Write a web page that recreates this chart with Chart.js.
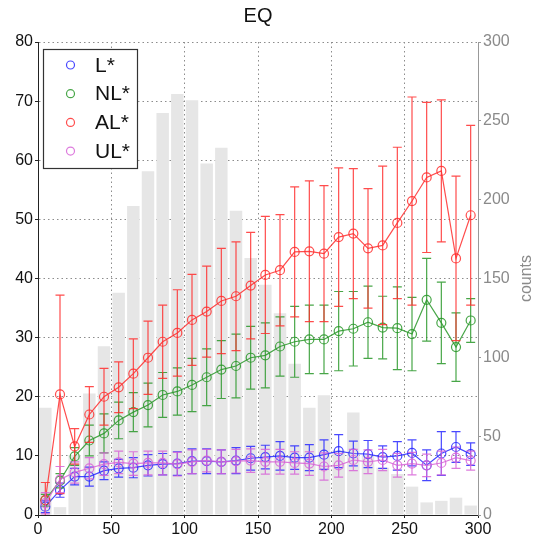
<!DOCTYPE html>
<html>
<head>
<meta charset="utf-8">
<script src="https://cdn.jsdelivr.net/npm/chart.js@4.4.0/dist/chart.umd.min.js"></script>
<style>
  html, body { margin:0; padding:0; background:#fff; }
  #wrap { width:539px; height:541px; }
</style>
</head>
<body>
<div id="wrap"><canvas id="chart" width="539" height="541"></canvas></div>
<script>
// bin centres (x) and histogram counts (right axis)
const binCenters = [5, 15, 25, 35, 45, 55, 65, 75, 85, 95, 105, 115, 125, 135, 145, 155, 165, 175, 185, 195, 205, 215, 225, 235, 245, 255, 265, 275, 285, 295];
const counts = [68, 5, 38, 77, 107, 141, 196, 218, 255, 267, 263, 223, 233, 193, 163, 146, 128, 96, 68, 76, 41, 65, 38, 30, 26, 18, 8, 9, 11, 6];

// series means and error half-widths
const seriesL = [1.4, 4.2, 6.5, 6.5, 7.5, 7.9, 8.0, 8.4, 8.6, 8.7, 9.1, 9.1, 9.0, 9.2, 9.6, 9.8, 10.0, 9.7, 9.7, 10.2, 10.8, 10.4, 10.3, 9.8, 10.0, 10.5, 8.4, 10.4, 11.5, 10.3];
const errL = [1.0, 1.2, 1.4, 1.6, 1.5, 1.5, 1.7, 1.8, 1.8, 2.0, 2.1, 2.1, 2.0, 2.2, 2.0, 2.0, 2.4, 2.0, 2.2, 2.5, 2.8, 2.1, 2.3, 1.9, 2.4, 2.2, 2.6, 3.7, 2.6, 1.9];

const seriesNL = [2.5, 5.8, 9.9, 12.6, 13.8, 16.0, 17.4, 18.6, 20.3, 20.9, 22.0, 23.3, 24.6, 25.2, 26.6, 27.0, 28.5, 29.3, 29.7, 29.7, 31.1, 31.5, 32.6, 31.7, 31.6, 30.6, 36.4, 32.5, 28.4, 32.9];
const errNL = [1.0, 1.2, 1.5, 2.6, 3.3, 3.1, 3.3, 3.7, 3.8, 4.0, 4.5, 4.8, 4.9, 5.4, 5.3, 5.5, 5.0, 6.0, 5.8, 5.8, 6.7, 6.3, 6.1, 5.3, 7.0, 6.2, 7.0, 6.9, 5.8, 3.7];

const seriesAL = [2.5, 20.4, 11.6, 17.0, 20.0, 21.6, 23.9, 26.6, 29.3, 30.8, 33.0, 34.4, 36.2, 37.0, 38.8, 40.6, 41.4, 44.5, 44.6, 44.2, 47.0, 47.6, 45.1, 45.6, 49.4, 53.1, 57.1, 58.2, 43.4, 50.7];
const errAL = [3.0, 16.8, 3.0, 4.7, 4.8, 4.3, 5.9, 6.2, 6.2, 7.3, 7.7, 7.7, 8.9, 9.2, 9.0, 9.9, 9.4, 11.0, 11.9, 11.5, 11.7, 11.0, 10.1, 13.4, 12.8, 17.6, 12.7, 12.0, 13.9, 15.2];

const seriesUL = [2.0, 6.0, 7.2, 7.9, 8.6, 8.9, 8.7, 8.8, 8.8, 8.6, 9.0, 9.2, 9.0, 9.1, 9.2, 9.0, 9.0, 8.8, 8.7, 8.2, 8.4, 9.3, 9.0, 9.3, 8.4, 8.7, 8.4, 8.8, 9.7, 9.2];
const errUL = [1.8, 2.2, 1.8, 1.8, 1.9, 1.9, 2.0, 2.0, 2.0, 2.0, 2.0, 1.9, 2.0, 2.0, 2.0, 2.1, 2.1, 1.9, 2.0, 2.3, 2.0, 1.8, 2.0, 1.8, 2.0, 1.9, 1.9, 2.0, 1.8, 1.6];

const xTicks = [0, 50, 100, 150, 200, 250, 300];

const FONT = "'Liberation Sans', Arial, Helvetica, sans-serif";

const toPoints = vals => vals.map((v, i) => ({ x: binCenters[i], y: v }));

function lineSet(label, vals, errs, color, order) {
  return {
    type: 'line',
    label,
    data: toPoints(vals),
    errors: errs,
    yAxisID: 'y',
    borderColor: color,
    borderWidth: 1.2,
    pointStyle: 'circle',
    pointRadius: 4.5,
    pointBorderWidth: 1.2,
    pointBorderColor: color,
    pointBackgroundColor: 'rgba(0,0,0,0)',
    tension: 0,
    order
  };
}

// vertical error bars with caps, drawn under each line
const errorBars = {
  id: 'errorBars',
  beforeDatasetDraw(chart, args) {
    const ds = chart.data.datasets[args.index];
    if (!ds.errors) return;
    const xs = chart.scales.x, ys = chart.scales.y;
    const area = chart.chartArea;
    const ctx = chart.ctx;
    ctx.save();
    ctx.beginPath();
    ctx.rect(area.left, area.top, area.right - area.left, area.bottom - area.top);
    ctx.clip();
    ctx.strokeStyle = ds.borderColor;
    ctx.lineWidth = 1.2;
    ds.data.forEach((p, i) => {
      const px = xs.getPixelForValue(p.x);
      const top = ys.getPixelForValue(p.y + ds.errors[i]);
      const bot = ys.getPixelForValue(p.y - ds.errors[i]);
      ctx.beginPath();
      ctx.moveTo(px, top); ctx.lineTo(px, bot);
      ctx.moveTo(px - 4.5, top); ctx.lineTo(px + 4.5, top);
      ctx.moveTo(px - 4.5, bot); ctx.lineTo(px + 4.5, bot);
      ctx.stroke();
    });
    ctx.restore();
  }
};

// title, right axis caption and the boxed legend
const decorations = {
  id: 'decorations',
  afterDraw(chart) {
    const ctx = chart.ctx;
    const area = chart.chartArea;
    ctx.save();
    ctx.fillStyle = '#111';
    ctx.font = '20px ' + FONT;
    ctx.textAlign = 'center';
    ctx.textBaseline = 'middle';
    ctx.fillText('EQ', (area.left + area.right) / 2, 16);

    ctx.translate(527, (area.top + area.bottom) / 2);
    ctx.rotate(-Math.PI / 2);
    ctx.fillStyle = '#8a8a8a';
    ctx.font = '16px ' + FONT;
    ctx.fillText('counts', 0, 0);
    ctx.restore();

    // legend
    ctx.save();
    ctx.fillStyle = '#fff';
    ctx.fillRect(43, 49, 94, 119);
    ctx.strokeStyle = '#333';
    ctx.lineWidth = 1.2;
    ctx.strokeRect(43.5, 49.5, 94, 119);
    const lines = chart.data.datasets.filter(d => d.type === 'line');
    lines.forEach((d, i) => {
      const cy = 65 + i * 28.7;
      ctx.beginPath();
      ctx.arc(70.5, cy, 4, 0, Math.PI * 2);
      ctx.strokeStyle = d.borderColor;
      ctx.lineWidth = 1.2;
      ctx.stroke();
      ctx.fillStyle = '#111';
      ctx.font = '21px ' + FONT;
      ctx.textAlign = 'left';
      ctx.textBaseline = 'middle';
      ctx.fillText(d.label, 95, cy + 1);
    });
    ctx.restore();
  }
};

new Chart(document.getElementById('chart'), {
  data: {
    datasets: [
      {
        type: 'bar',
        label: 'counts',
        data: counts.map((c, i) => ({ x: binCenters[i], y: c })),
        yAxisID: 'y2',
        backgroundColor: '#e6e6e6',
        borderWidth: 0,
        barPercentage: 0.85,
        categoryPercentage: 1,
        order: 10
      },
      lineSet('L*', seriesL, errL, 'rgba(40,40,255,0.85)', 4),
      lineSet('NL*', seriesNL, errNL, 'rgba(40,150,40,0.85)', 3),
      lineSet('AL*', seriesAL, errAL, 'rgba(255,45,45,0.85)', 2),
      lineSet('UL*', seriesUL, errUL, 'rgba(215,100,215,0.85)', 1)
    ]
  },
  options: {
    responsive: false,
    animation: false,
    devicePixelRatio: 1,
    layout: { padding: { top: 42, left: 0, right: 0, bottom: 0 } },
    plugins: {
      legend: { display: false },
      tooltip: { enabled: false },
      title: { display: false }
    },
    scales: {
      x: {
        type: 'linear',
        min: 0,
        max: 300,
        offset: false,
        z: 1,
        afterFit: s => { s.height = 26; },
        afterBuildTicks: s => { s.ticks = xTicks.map(v => ({ value: v })); },
        ticks: { color: '#111', font: { family: FONT, size: 16 }, padding: 2, maxRotation: 0 },
        grid: { offset: false, color: '#8c8c8c', lineWidth: 1, tickLength: 3, tickColor: '#222' },
        border: { display: true, color: '#222', width: 1, dash: [1.5, 3] }
      },
      y: {
        position: 'left',
        min: 0,
        max: 80,
        z: 1,
        afterFit: s => { s.width = 38; },
        ticks: { stepSize: 10, color: '#111', font: { family: FONT, size: 16 }, padding: 2 },
        grid: { color: '#8c8c8c', lineWidth: 1, tickLength: 3, tickColor: '#222' },
        border: { display: true, color: '#222', width: 1, dash: [1.5, 3] }
      },
      y2: {
        position: 'right',
        min: 0,
        max: 300,
        afterFit: s => { s.width = 61; },
        ticks: { stepSize: 50, color: '#8a8a8a', font: { family: FONT, size: 16 }, padding: 2 },
        grid: { drawOnChartArea: false, tickLength: 3, tickColor: '#999' },
        border: { display: true, color: '#999', width: 1 }
      }
    }
  },
  plugins: [errorBars, decorations]
});
</script>
</body>
</html>
